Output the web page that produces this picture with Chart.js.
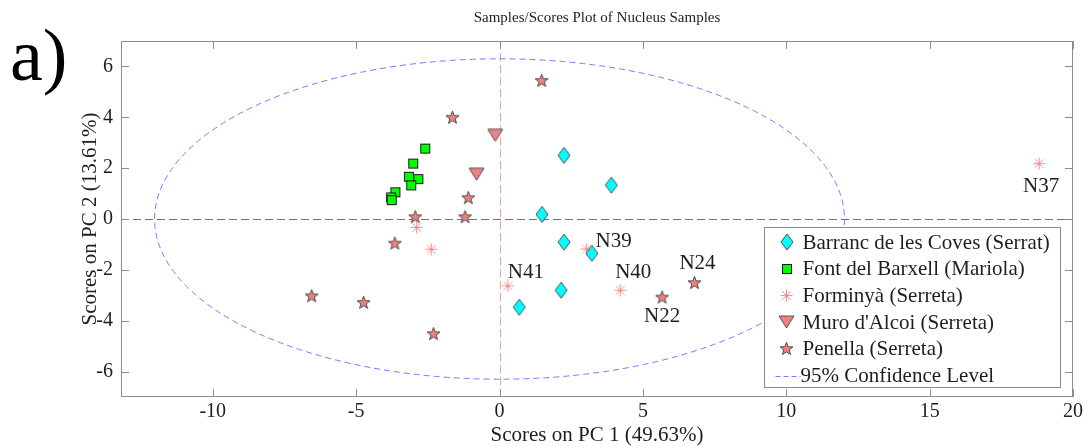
<!DOCTYPE html>
<html>
<head>
<meta charset="utf-8">
<script src="https://cdn.jsdelivr.net/npm/chart.js@4/dist/chart.umd.min.js"></script>
<style>
  html, body { margin: 0; padding: 0; background: #ffffff; }
  canvas { display: block; }
</style>
</head>
<body>
<canvas id="scores" width="1088" height="446"></canvas>
<script>
// ---- PCA scores (PC1, PC2) per sampling site ----
const seriesLabels = [
  'Barranc de les Coves (Serrat)',
  'Font del Barxell (Mariola)',
  'Forminyà (Serreta)',
  "Muro d'Alcoi (Serreta)",
  'Penella (Serreta)'
];

const barrancPC1 = [2.25, 3.90, 1.48, 2.25, 3.22, 2.15, 0.69];
const barrancPC2 = [2.50, 1.33, 0.18, -0.91, -1.35, -2.80, -3.47];

const barxellPC1 = [-2.59, -3.01, -3.16, -2.83, -3.08, -3.63, -3.78, -3.76];
const barxellPC2 = [2.77, 2.18, 1.66, 1.57, 1.32, 1.05, 0.85, 0.74];

const forminyaPC1 = [-2.89, -2.38, 3.04, 0.29, 4.21, 18.82];
const forminyaPC2 = [-0.33, -1.19, -1.18, -2.63, -2.80, 2.18];

const muroPC1 = [-0.15, -0.80];
const muroPC2 = [3.29, 1.76];

const penellaPC1 = [1.47, -1.64, -1.09, -1.20, -2.94, -3.65, -6.55, -4.74, -2.30, 5.67, 6.80];
const penellaPC2 = [5.45, 4.00, 0.84, 0.09, 0.09, -0.95, -3.02, -3.28, -4.51, -3.07, -2.50];

// named samples: sample id, series index, point index within that series
const sampleNames  = ['N37', 'N39', 'N40', 'N41', 'N22', 'N24'];
const sampleSeries = [2, 2, 2, 2, 4, 4];
const samplePoint  = [5, 2, 4, 3, 9, 10];

// 95% confidence ellipse (centre and semi-axes, in score units)
const ellipseCentre = [0, 0];
const ellipseSemiAxes = [12.03, 6.3];
const ellipseLabel = '95% Confidence Level';

// axes
const xTickValues = [-10, -5, 0, 5, 10, 15, 20];
const yTickValues = [-6, -4, -2, 0, 2, 4, 6];
const xLimits = [-13.2, 20];
const yLimits = [-7, 7];
const chartTitle = 'Samples/Scores Plot of Nucleus Samples';
const xAxisTitle = 'Scores on PC 1 (49.63%)';
const yAxisTitle = 'Scores on PC 2 (13.61%)';
const panelTag = 'a)';

// ---- marker glyphs ----
const SERIF = "'Liberation Serif', 'Times New Roman', serif";

function glyph(w, h, draw) {
  const c = document.createElement('canvas');
  c.width = w; c.height = h;
  const g = c.getContext('2d');
  draw(g, w, h);
  return c;
}

const diamondMark = glyph(14, 18, (g) => {
  g.beginPath();
  g.moveTo(7, 1); g.lineTo(13, 9); g.lineTo(7, 17); g.lineTo(1, 9); g.closePath();
  g.fillStyle = '#00ffff'; g.fill();
  g.lineWidth = 1; g.strokeStyle = '#4d4d4d'; g.stroke();
});

const squareMark = glyph(12, 12, (g) => {
  g.fillStyle = '#00ff00';
  g.fillRect(1, 1, 10, 10);
  g.lineWidth = 1; g.strokeStyle = '#1a1a1a';
  g.strokeRect(1.5, 1.5, 9, 9);
});

const asteriskMark = glyph(13, 13, (g) => {
  const c = 6.5, r = 6, d = r * Math.SQRT1_2;
  g.strokeStyle = '#ff8c8c'; g.lineWidth = 1;
  g.beginPath();
  g.moveTo(c - r, c); g.lineTo(c + r, c);
  g.moveTo(c, c - r); g.lineTo(c, c + r);
  g.moveTo(c - d, c - d); g.lineTo(c + d, c + d);
  g.moveTo(c - d, c + d); g.lineTo(c + d, c - d);
  g.stroke();
});

const triangleMark = glyph(17, 14, (g) => {
  g.beginPath();
  g.moveTo(1, 1); g.lineTo(16, 1); g.lineTo(8.5, 13); g.closePath();
  g.fillStyle = '#f08080'; g.fill();
  g.lineWidth = 1; g.strokeStyle = '#555555'; g.stroke();
});

const starMark = glyph(15, 15, (g) => {
  const cx = 7.5, cy = 8, ro = 6.8, ri = 2.8;
  g.beginPath();
  for (let i = 0; i < 10; i++) {
    const r = i % 2 ? ri : ro;
    const a = -Math.PI / 2 + i * Math.PI / 5;
    const px = cx + r * Math.cos(a), py = cy + r * Math.sin(a);
    i ? g.lineTo(px, py) : g.moveTo(px, py);
  }
  g.closePath();
  g.fillStyle = '#f08080'; g.fill();
  g.lineWidth = 1; g.strokeStyle = '#4a4a4a'; g.stroke();
});

function pairs(xs, ys) { return xs.map((v, i) => ({ x: v, y: ys[i] })); }

const datasets = [
  { label: seriesLabels[0], data: pairs(barrancPC1, barrancPC2), pointStyle: diamondMark },
  { label: seriesLabels[1], data: pairs(barxellPC1, barxellPC2), pointStyle: squareMark },
  { label: seriesLabels[2], data: pairs(forminyaPC1, forminyaPC2), pointStyle: asteriskMark },
  { label: seriesLabels[3], data: pairs(muroPC1, muroPC2), pointStyle: triangleMark },
  { label: seriesLabels[4], data: pairs(penellaPC1, penellaPC2), pointStyle: starMark }
].map(d => Object.assign(d, { pointRadius: 7, showLine: false }));

// ---- decorations: reference lines, ellipse, frame, sample ids, legend ----
function seg(ctx, x1, y1, x2, y2) {
  ctx.beginPath(); ctx.moveTo(x1, y1); ctx.lineTo(x2, y2); ctx.stroke();
}

const sampleLabelOffsets = {
  N37: [2, 23], N39: [27, -8], N40: [13, -18],
  N41: [18, -13], N22: [0, 19], N24: [3, -19]
};

const scoresDecor = {
  id: 'scoresDecor',
  beforeDatasetsDraw(chart) {
    const { ctx, chartArea: a, scales: { x, y } } = chart;
    ctx.save();
    ctx.lineWidth = 1;

    // PC2 = 0 and PC1 = 0 reference lines
    const y0 = Math.round(y.getPixelForValue(0)) + 0.5;
    const x0 = Math.round(x.getPixelForValue(0)) + 0.5;
    ctx.setLineDash([8, 4]);
    ctx.strokeStyle = '#707070';
    seg(ctx, a.left, y0, a.right, y0);
    ctx.strokeStyle = '#e8a0a0';
    seg(ctx, x0, a.top, x0, a.bottom);

    // confidence ellipse
    const cx = x.getPixelForValue(ellipseCentre[0]);
    const cy = y.getPixelForValue(ellipseCentre[1]);
    const rx = Math.abs(x.getPixelForValue(ellipseCentre[0] + ellipseSemiAxes[0]) - cx);
    const ry = Math.abs(y.getPixelForValue(ellipseCentre[1] + ellipseSemiAxes[1]) - cy);
    ctx.setLineDash([6, 4]);
    ctx.strokeStyle = '#7878ff';
    ctx.beginPath();
    ctx.ellipse(cx, cy, rx, ry, 0, 0, Math.PI * 2);
    ctx.stroke();

    // axes box with inward ticks on all four sides
    ctx.setLineDash([]);
    ctx.strokeStyle = '#8c8c8c';
    ctx.strokeRect(a.left + 0.5, a.top + 0.5, a.right - a.left - 1, a.bottom - a.top - 1);
    const tl = 8;
    xTickValues.forEach(v => {
      const px = Math.round(x.getPixelForValue(v)) + 0.5;
      seg(ctx, px, a.bottom, px, a.bottom - tl);
      seg(ctx, px, a.top, px, a.top + tl);
    });
    yTickValues.forEach(v => {
      const py = Math.round(y.getPixelForValue(v)) + 0.5;
      seg(ctx, a.left, py, a.left + tl, py);
      seg(ctx, a.right, py, a.right - tl, py);
    });
    ctx.restore();
  },
  afterDatasetsDraw(chart) {
    const { ctx, chartArea: a, scales: { x, y } } = chart;
    ctx.save();

    // sample ids
    ctx.font = '21px ' + SERIF;
    ctx.fillStyle = '#1e1e1e';
    ctx.textAlign = 'center';
    ctx.textBaseline = 'middle';
    sampleNames.forEach((name, i) => {
      const pt = chart.data.datasets[sampleSeries[i]].data[samplePoint[i]];
      const off = sampleLabelOffsets[name];
      ctx.fillText(name, x.getPixelForValue(pt.x) + off[0], y.getPixelForValue(pt.y) + off[1]);
    });

    // legend
    const w = 296, h = 160;
    const left = Math.round(a.right - 13 - w) + 0.5;
    const top = Math.round(a.bottom - 10 - h) + 0.5;
    ctx.fillStyle = '#ffffff';
    ctx.fillRect(left, top, w, h);
    ctx.strokeStyle = '#8c8c8c';
    ctx.lineWidth = 1;
    ctx.strokeRect(left, top, w, h);
    const rowH = 26.7;
    ctx.textAlign = 'left';
    ctx.fillStyle = '#1e1e1e';
    chart.data.datasets.forEach((ds, i) => {
      const cy = top + 14.5 + i * rowH;
      const m = ds.pointStyle;
      ctx.drawImage(m, Math.round(left + 22 - m.width / 2), Math.round(cy - m.height / 2));
      ctx.fillText(ds.label, left + 38, cy + 1);
    });
    const cy = top + 14.5 + chart.data.datasets.length * rowH;
    ctx.strokeStyle = '#7878ff';
    ctx.setLineDash([5, 3]);
    seg(ctx, left + 11, Math.round(cy) + 0.5, left + 36, Math.round(cy) + 0.5);
    ctx.setLineDash([]);
    ctx.fillText(ellipseLabel, left + 36, cy + 1);
    ctx.restore();
  },
  afterDraw(chart) {
    const { ctx } = chart;
    ctx.save();
    ctx.font = '74px ' + SERIF;
    ctx.fillStyle = '#000000';
    ctx.textAlign = 'left';
    ctx.textBaseline = 'alphabetic';
    ctx.fillText(panelTag, 10, 80);
    ctx.restore();
  }
};

const tickFont = { family: SERIF, size: 20 };
const titleFont = { family: SERIF, size: 21, lineHeight: 1 };

new Chart(document.getElementById('scores'), {
  type: 'scatter',
  data: { datasets },
  options: {
    responsive: false,
    animation: false,
    devicePixelRatio: 1,
    layout: { padding: { left: 0, right: 15, top: 0, bottom: 0 } },
    plugins: {
      legend: { display: false },
      tooltip: { enabled: false },
      title: {
        display: true,
        text: chartTitle,
        fullSize: false,
        color: '#1e1e1e',
        font: { family: SERIF, size: 15, weight: 'normal', lineHeight: 1.2 },
        padding: { top: 9, bottom: 14 }
      }
    },
    scales: {
      x: {
        type: 'linear',
        min: xLimits[0],
        max: xLimits[1],
        afterBuildTicks: s => { s.ticks = xTickValues.map(v => ({ value: v })); },
        afterFit: s => { s.height = 49; },
        grid: { display: false, drawTicks: false },
        border: { display: false },
        ticks: { font: tickFont, color: '#1e1e1e', padding: 3, maxRotation: 0 },
        title: { display: true, text: xAxisTitle, font: titleFont, color: '#1e1e1e', padding: { top: 0, bottom: 0.5 } }
      },
      y: {
        type: 'linear',
        min: yLimits[0],
        max: yLimits[1],
        afterBuildTicks: s => { s.ticks = yTickValues.map(v => ({ value: v })); },
        afterFit: s => { s.width = 121; },
        grid: { display: false, drawTicks: false },
        border: { display: false },
        ticks: { font: tickFont, color: '#1e1e1e', padding: 8 },
        title: { display: true, text: yAxisTitle, font: titleFont, color: '#1e1e1e', padding: { top: 80, bottom: 0 } }
      }
    }
  },
  plugins: [scoresDecor]
});
</script>
</body>
</html>
